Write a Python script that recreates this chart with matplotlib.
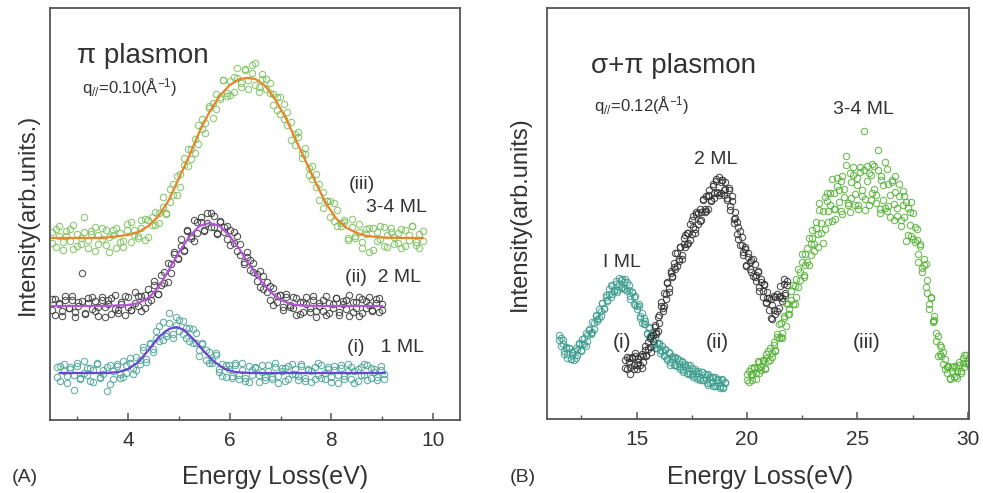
import numpy as np
import matplotlib
matplotlib.use("Agg")
import matplotlib.pyplot as plt

plt.rcParams['font.family'] = ['Liberation Sans', 'DejaVu Sans']
plt.rcParams['mathtext.default'] = 'regular'

# ---- panel A: pi plasmon, q=0.10 (two scans per film, energy ranges in eV) ----
a_green_range = (2.5, 9.8)
a_green = [188, 173, 194, 178, 184, 191, 171, 186, 176, 203, 180, 189, 169, 185, 192, 175, 183, 190, 172, 187,
           179, 196, 178, 190, 184, 200, 180, 200, 195, 208, 197, 213, 206, 231, 225, 244, 233, 255, 271, 261,
           281, 276, 301, 297, 312, 302, 326, 321, 340, 324, 339, 328, 352, 337, 350, 331, 347, 357, 333, 346,
           331, 337, 315, 323, 306, 316, 295, 298, 275, 288, 267, 266, 245, 254, 233, 236, 212, 219, 219, 199,
           210, 194, 198, 182, 201, 182, 188, 172, 191, 168, 192, 179, 194, 174, 185, 192, 176, 187, 172, 190,
           180, 194, 175, 186, 179]
a_green_2 = [177, 191, 184, 170, 189, 179, 195, 174, 182, 188, 172, 186, 193, 176, 181, 190, 168, 185, 192, 178,
             173, 190, 198, 185, 182, 192, 201, 183, 203, 195, 207, 223, 207, 218, 236, 225, 246, 262, 254, 271,
             267, 295, 291, 287, 314, 317, 311, 323, 340, 327, 325, 343, 342, 333, 351, 340, 355, 335, 328, 341,
             341, 327, 326, 310, 323, 301, 308, 280, 286, 283, 262, 272, 252, 241, 246, 220, 228, 219, 203, 217,
             194, 197, 200, 180, 193, 184, 196, 178, 186, 192, 170, 188, 181, 193, 173, 188, 183, 177, 191, 174,
             185, 194, 178, 172, 189]
a_green_fit_x = [2.5, 3.5, 4.0, 4.2, 4.4, 4.6, 4.8, 5.0, 5.2, 5.4, 5.6, 5.8, 6.0, 6.2, 6.35, 6.5, 6.7, 6.9,
                 7.1, 7.3, 7.5, 7.7, 7.9, 8.1, 8.3, 8.5, 8.7, 9.0, 9.4, 9.8]
a_green_fit_y = [182, 182, 185, 188, 194, 204, 220, 242, 264, 288, 308, 324, 335, 341, 342, 341, 334, 320,
                 302, 280, 258, 236, 216, 201, 192, 187, 184, 182.5, 182, 182]

a_black_range = (2.5, 9.0)
a_black = [121, 105, 117, 109, 124, 112, 120, 103, 118, 147, 107, 122, 111, 119, 104, 123, 113, 120, 106, 125,
           110, 116, 105, 123, 110, 128, 114, 124, 112, 131, 120, 135, 126, 145, 137, 157, 147, 166, 162, 181,
           170, 189, 182, 200, 187, 203, 189, 207, 193, 204, 186, 199, 188, 194, 175, 188, 169, 176, 158, 168,
           150, 157, 139, 149, 131, 138, 120, 132, 118, 125, 110, 123, 113, 123, 105, 118, 108, 123, 112, 120,
           103, 117, 109, 124, 107, 116, 122, 105, 119, 111, 125, 108, 118, 104, 121, 112, 123, 109, 117, 122,
           110]
a_black_2 = [110, 121, 116, 104, 120, 112, 124, 108, 114, 119, 106, 117, 123, 109, 113, 120, 103, 116, 122, 111,
             107, 118, 124, 113, 110, 117, 124, 109, 125, 118, 126, 139, 126, 135, 148, 138, 156, 168, 161, 174,
             169, 190, 184, 179, 198, 198, 190, 197, 207, 193, 187, 198, 193, 181, 190, 177, 184, 165, 156, 163,
             160, 148, 146, 133, 144, 128, 134, 115, 124, 125, 113, 126, 115, 112, 122, 106, 118, 116, 108, 124,
             109, 114, 120, 105, 117, 112, 122, 108, 116, 120, 104, 118, 112, 123, 107, 119, 115, 110, 121, 108,
             116]
a_black_fit_x = [2.5, 3.5, 4.0, 4.2, 4.4, 4.6, 4.8, 5.0, 5.2, 5.4, 5.6, 5.8, 6.0, 6.2, 6.4, 6.6, 6.8, 7.0,
                 7.2, 7.4, 7.8, 9.0]
a_black_fit_y = [114, 114, 115, 117, 122, 133, 150, 168, 183, 194, 197, 194, 184, 170, 154, 140, 128, 120,
                 116, 114.5, 114, 114]

a_teal_range = (2.6, 9.035)
a_teal = [53, 39, 56, 44, 51, 30, 54, 42, 59, 45, 52, 38, 57, 43, 50, 29, 55, 41, 54, 42,
          59, 47, 57, 46, 63, 56, 73, 61, 77, 68, 89, 79, 98, 84, 107, 86, 103, 89, 99, 82,
          92, 77, 87, 70, 77, 60, 68, 57, 65, 48, 56, 43, 55, 44, 57, 41, 50, 39, 54, 45,
          52, 38, 55, 43, 49, 41, 57, 44, 52, 39, 54, 46, 51, 40, 56, 42, 50, 38, 53, 45,
          55, 41, 51, 43, 54, 37, 52, 44, 56, 41, 49, 39, 53, 45, 55, 42, 51, 40, 50, 46]
a_teal_2 = [43, 54, 49, 37, 53, 45, 57, 41, 47, 52, 39, 50, 56, 42, 46, 53, 36, 49, 56, 46,
            43, 55, 62, 52, 50, 60, 70, 58, 76, 71, 82, 94, 80, 87, 97, 82, 95, 100, 86, 92,
            79, 91, 77, 64, 76, 70, 57, 60, 67, 51, 44, 55, 51, 42, 55, 45, 57, 42, 38, 50,
            53, 45, 48, 40, 55, 43, 53, 37, 49, 52, 41, 56, 46, 44, 54, 39, 51, 49, 41, 57,
            42, 47, 53, 38, 50, 45, 55, 41, 49, 53, 37, 51, 45, 56, 40, 52, 48, 43, 54, 41]
a_teal_fit_x = [2.65, 3.6, 3.8, 4.0, 4.2, 4.4, 4.6, 4.8, 4.95, 5.1, 5.3, 5.5, 5.7, 5.9, 6.1, 6.4, 9.05]
a_teal_fit_y = [47, 47, 48, 51, 58, 70, 83, 91, 93, 90, 80, 68, 58, 51, 48, 47, 47]

# ---- panel B: sigma+pi plasmon, q=0.12 ----
b_teal_range = (11.5, 19.0)
b_teal = [84, 73, 79, 68, 72, 61, 71, 60, 67, 59, 71, 64, 76, 68, 80, 75, 86, 78, 89, 85,
          97, 90, 103, 98, 110, 103, 116, 111, 124, 118, 130, 122, 133, 128, 138, 129, 141, 131, 140, 130,
          140, 128, 134, 123, 127, 115, 123, 110, 113, 101, 106, 95, 98, 85, 92, 81, 85, 74, 81, 71,
          76, 66, 73, 64, 69, 59, 67, 57, 63, 54, 62, 53, 59, 50, 58, 49, 55, 46, 54, 45,
          51, 42, 50, 42, 48, 39, 47, 39, 45, 36, 45, 36, 42, 33, 42, 33, 40, 31, 40, 32, 37]
b_teal_2 = [79, 81, 75, 65, 71, 65, 71, 60, 64, 68, 61, 69, 75, 69, 75, 81, 73, 84, 90, 86,
            87, 96, 104, 100, 101, 108, 116, 110, 122, 119, 125, 134, 125, 129, 135, 127, 135, 139, 132, 137,
            130, 137, 129, 120, 127, 122, 114, 113, 115, 103, 96, 101, 95, 86, 91, 83, 87, 75, 71, 76,
            75, 69, 68, 63, 70, 61, 66, 54, 60, 61, 54, 61, 55, 52, 57, 47, 53, 51, 45, 54,
            44, 46, 48, 40, 46, 41, 47, 39, 42, 44, 34, 42, 37, 42, 33, 39, 36, 33, 39, 31, 36]

b_black_range = (14.5, 21.8)
b_black = [59, 50, 61, 52, 61, 50, 63, 54, 61, 54, 65, 57, 69, 64, 77, 72, 83, 78, 92, 85,
           102, 96, 113, 108, 126, 120, 136, 131, 148, 143, 156, 150, 166, 158, 172, 164, 181, 172, 186, 176,
           195, 185, 203, 190, 207, 195, 210, 199, 219, 207, 223, 210, 229, 219, 235, 221, 238, 226, 242, 226,
           239, 224, 237, 219, 229, 209, 218, 200, 207, 185, 192, 174, 182, 164, 170, 154, 166, 150, 159, 143,
           155, 138, 148, 132, 140, 122, 135, 116, 127, 109, 120, 100, 123, 105, 125, 111, 133, 118, 140, 126, 138]
b_black_2 = [51, 62, 57, 45, 62, 54, 66, 50, 57, 63, 51, 63, 73, 63, 70, 81, 67, 84, 94, 87,
             88, 104, 117, 111, 113, 125, 137, 127, 146, 142, 152, 166, 153, 160, 172, 160, 175, 184, 175, 186,
             179, 199, 192, 186, 205, 206, 198, 207, 220, 210, 208, 224, 223, 218, 233, 226, 240, 227, 224, 237,
             239, 229, 230, 221, 231, 213, 223, 196, 201, 197, 180, 188, 174, 167, 172, 153, 162, 157, 147, 160,
             142, 144, 147, 128, 137, 128, 134, 117, 121, 121, 101, 114, 109, 122, 108, 122, 123, 121, 135, 124, 134]

b_green_range = (20.0, 30.0)
b_green = [45, 37, 51, 44, 52, 40, 51, 57, 49, 58, 50, 65, 58, 71, 62, 74, 69, 85, 81, 96,
           86, 101, 93, 115, 110, 128, 115, 133, 122, 150, 139, 157, 142, 165, 157, 181, 164, 181, 168, 197,
           185, 209, 186, 208, 190, 226, 208, 226, 198, 226, 210, 241, 217, 238, 205, 230, 263, 214, 246, 221,
           252, 214, 241, 210, 247, 229, 288, 220, 253, 214, 244, 226, 253, 216, 269, 206, 243, 219, 257, 208,
           235, 202, 239, 215, 243, 203, 223, 193, 228, 202, 217, 184, 207, 183, 206, 177, 190, 157, 173, 151,
           160, 132, 139, 115, 122, 98, 99, 78, 83, 65, 72, 55, 60, 46, 53, 41, 52, 42, 52, 41,
           57, 48, 61, 52, 64, 58]
b_green_2 = [39, 48, 45, 39, 51, 46, 58, 46, 53, 59, 51, 61, 68, 59, 66, 77, 68, 82, 95, 82,
             81, 103, 116, 105, 105, 119, 134, 115, 140, 132, 147, 165, 144, 154, 171, 154, 175, 189, 175, 191,
             172, 216, 196, 176, 222, 218, 197, 214, 240, 210, 200, 233, 229, 208, 243, 222, 254, 216, 207, 237,
             244, 225, 234, 214, 252, 223, 249, 209, 238, 246, 219, 255, 230, 224, 249, 210, 239, 234, 211, 250,
             213, 224, 237, 199, 227, 211, 235, 199, 214, 223, 178, 211, 194, 217, 180, 192, 179, 165, 175, 147,
             154, 155, 126, 110, 121, 97, 103, 86, 63, 74, 63, 67, 50, 52, 53, 40, 48, 53, 43, 48,
             54, 46, 56, 64, 56, 55]


def scatter(ax, rng, vals, color):
    x = np.linspace(rng[0], rng[1], len(vals))
    ax.plot(x, vals, 'o', mfc='none', mec=color, ms=4.6, mew=0.8, alpha=0.85, ls='none')


fig = plt.figure(figsize=(9.83, 4.93), dpi=100)
ax1 = fig.add_axes([0.0509, 0.148, 0.417, 0.836])
ax2 = fig.add_axes([0.5565, 0.150, 0.4293, 0.834])

for vals in (a_green, a_green_2):
    scatter(ax1, a_green_range, vals, '#78c25a')
for vals in (a_black, a_black_2):
    scatter(ax1, a_black_range, vals, '#3a3a3a')
for vals in (a_teal, a_teal_2):
    scatter(ax1, a_teal_range, vals, '#4aa396')
ax1.plot(a_green_fit_x, a_green_fit_y, color='#e8852a', lw=1.6)
ax1.plot(a_black_fit_x, a_black_fit_y, color='#b455d8', lw=1.6)
ax1.plot(a_teal_fit_x, a_teal_fit_y, color='#6a44d4', lw=1.6)

for vals in (b_teal, b_teal_2):
    scatter(ax2, b_teal_range, vals, '#3f9e90')
for vals in (b_black, b_black_2):
    scatter(ax2, b_black_range, vals, '#333333')
for vals in (b_green, b_green_2):
    scatter(ax2, b_green_range, vals, '#55b236')

ax1.set_xlim(2.46, 10.53)
ax1.set_ylim(0, 412)
ax2.set_xlim(10.95, 30.05)
ax2.set_ylim(0, 411)

ax1.set_xticks([4, 6, 8, 10])
ax1.set_xticks([3, 5, 7, 9], minor=True)
ax2.set_xticks([15, 20, 25, 30])
ax2.set_xticks([12.5, 17.5, 22.5, 27.5], minor=True)

for ax in (ax1, ax2):
    ax.set_yticks([])
    for s in ax.spines.values():
        s.set_color('#555555')
        s.set_linewidth(1.3)
    ax.tick_params(axis='x', which='major', direction='in', length=5, width=1.1,
                   color='#555555', labelsize=15, labelcolor='#333333', pad=8)
    ax.tick_params(axis='x', which='minor', direction='in', length=3, width=1.0, color='#555555')

txt = '#333333'
# panel A labels
ax1.text(2.99, 357, 'π plasmon', fontsize=20, color=txt, va='baseline')
ax1.text(3.09, 332, r'q$_{//}$=0.10(Å$^{-1}$)', fontsize=12, color=txt, va='center')
ax1.text(8.6, 235, '(iii)', fontsize=14, color=txt, ha='center', va='center')
ax1.text(9.27, 212, '3-4 ML', fontsize=14, color=txt, ha='center', va='center')
ax1.text(8.27, 142, '(ii)  2 ML', fontsize=14, color=txt, ha='left', va='center')
ax1.text(8.31, 73, '(i)   1 ML', fontsize=14, color=txt, ha='left', va='center')

# panel B labels
ax2.text(12.95, 346, 'σ+π plasmon', fontsize=20, color=txt, va='baseline')
ax2.text(13.08, 313, r'q$_{//}$=0.12(Å$^{-1}$)', fontsize=12, color=txt, va='center')
ax2.text(25.25, 309, '3-4 ML', fontsize=14, color=txt, ha='center', va='center')
ax2.text(18.6, 259, '2 ML', fontsize=14, color=txt, ha='center', va='center')
ax2.text(14.35, 156, 'I ML', fontsize=14, color=txt, ha='center', va='center')
ax2.text(14.35, 77, '(i)', fontsize=15, color=txt, ha='center', va='center')
ax2.text(18.65, 77, '(ii)', fontsize=15, color=txt, ha='center', va='center')
ax2.text(25.4, 77, '(iii)', fontsize=15, color=txt, ha='center', va='center')

fig.text(28 / 983, 0.566, 'Intensity(arb.units.)', rotation=90, fontsize=17, color=txt, ha='center', va='center')
fig.text(520 / 983, 0.566, 'Intensity(arb.units)', rotation=90, fontsize=17, color=txt, ha='center', va='center')
fig.text(275 / 983, 0.032, 'Energy Loss(eV)', fontsize=18, color=txt, ha='center', va='center')
fig.text(760 / 983, 0.032, 'Energy Loss(eV)', fontsize=18, color=txt, ha='center', va='center')
fig.text(25 / 983, 0.032, '(A)', fontsize=14, color=txt, ha='center', va='center')
fig.text(523 / 983, 0.032, '(B)', fontsize=14, color=txt, ha='center', va='center')

fig.savefig('out.png', dpi=100)
